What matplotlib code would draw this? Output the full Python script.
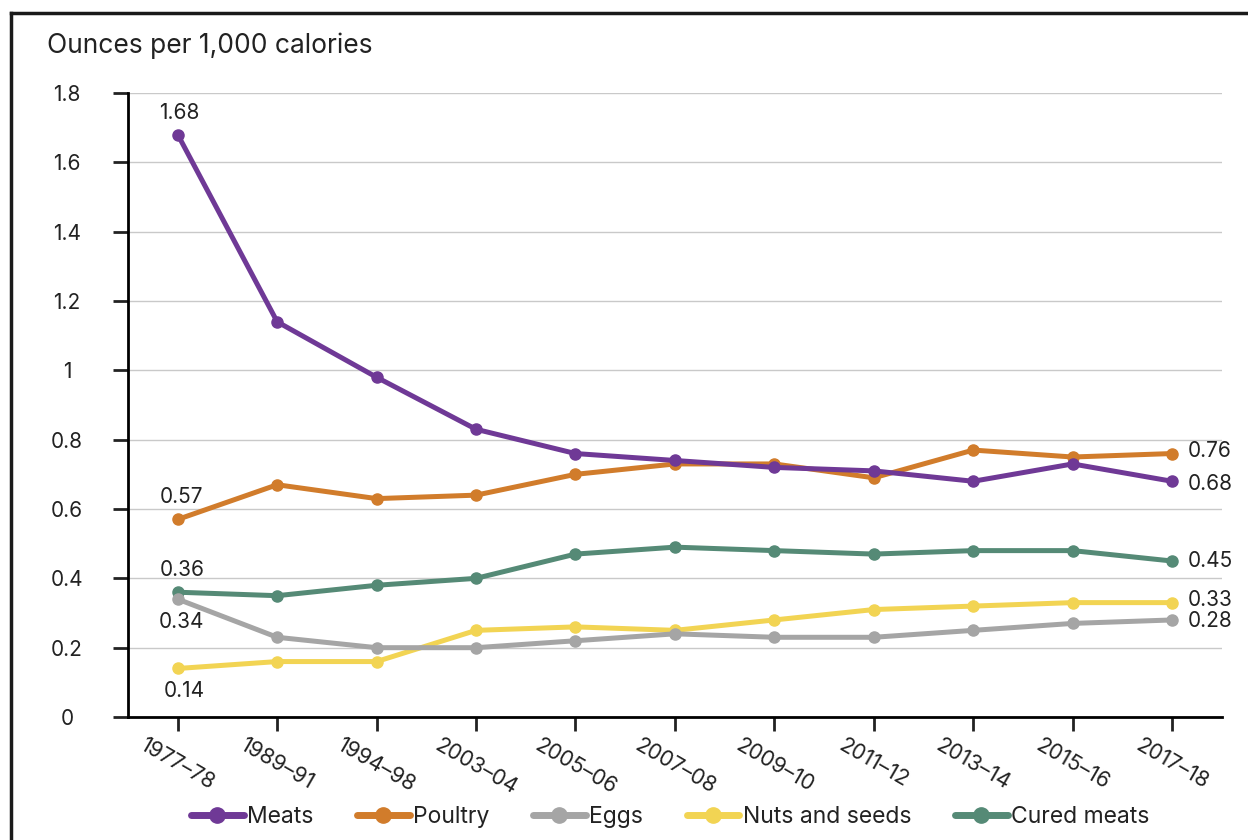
"""Ounces per 1,000 calories by food group, 1977-78 to 2017-18."""

import matplotlib
matplotlib.use('Agg')
import matplotlib.pyplot as plt
from matplotlib.lines import Line2D


plt.rcParams['font.family'] = ['Inter', 'DejaVu Sans']

periods = ['1977–78', '1989–91', '1994–98', '2003–04', '2005–06', '2007–08',
           '2009–10', '2011–12', '2013–14', '2015–16', '2017–18']

meats = [1.68, 1.14, 0.98, 0.83, 0.76, 0.74, 0.72, 0.71, 0.68, 0.73, 0.68]
poultry = [0.57, 0.67, 0.63, 0.64, 0.70, 0.73, 0.73, 0.69, 0.77, 0.75, 0.76]
eggs = [0.34, 0.23, 0.20, 0.20, 0.22, 0.24, 0.23, 0.23, 0.25, 0.27, 0.28]
nuts = [0.14, 0.16, 0.16, 0.25, 0.26, 0.25, 0.28, 0.31, 0.32, 0.33, 0.33]
cured = [0.36, 0.35, 0.38, 0.40, 0.47, 0.49, 0.48, 0.47, 0.48, 0.48, 0.45]

series = [
    ('Meats', meats, '#6f3996'),
    ('Poultry', poultry, '#d17c2b'),
    ('Eggs', eggs, '#a5a5a5'),
    ('Nuts and seeds', nuts, '#f2d453'),
    ('Cured meats', cured, '#558a76'),
]

yticks = [0, 0.2, 0.4, 0.6, 0.8, 1, 1.2, 1.4, 1.6, 1.8]
ytick_labels = ['0', '0.2', '0.4', '0.6', '0.8', '1', '1.2', '1.4', '1.6', '1.8']

text_color = '#222222'


fig = plt.figure(figsize=(12.48, 8.4), dpi=100)
ax = fig.add_axes([0.1026, 0.1464, 0.8764, 0.7429])

xx = list(range(len(periods)))

# draw the later series first so meats sits on top
for name, vals, color in series[::-1]:
    ax.plot(xx, vals, color=color, lw=3.6, marker='o', ms=8,
            solid_capstyle='round', zorder=3)

ax.set_xlim(-0.5, 10.5)
ax.set_ylim(0, 1.8)

ax.set_yticks(yticks)
ax.set_yticklabels(ytick_labels)
ax.set_xticks(xx)
ax.set_xticklabels(periods, rotation=-30, ha='center', va='top')

ax.tick_params(axis='y', length=11, width=2, labelsize=15, pad=33, colors=text_color)
ax.tick_params(axis='x', length=10, width=2, labelsize=15.5, pad=3, colors=text_color)
for lab in ax.get_yticklabels():
    lab.set_horizontalalignment('center')

ax.grid(axis='y', color='#c9c9c9', lw=1)
ax.set_axisbelow(True)
for side in ['top', 'right']:
    ax.spines[side].set_visible(False)
ax.spines['left'].set_linewidth(2)
ax.spines['bottom'].set_linewidth(2)

# value labels at the ends --------------------------------------------------

lab_kw = dict(fontsize=15, color=text_color, textcoords='offset points')

ax.annotate('1.68', (0, meats[0]), xytext=(1, 8), ha='center', va='bottom', **lab_kw)
ax.annotate('0.57', (0, poultry[0]), xytext=(3, 9), ha='center', va='bottom', **lab_kw)
ax.annotate('0.36', (0, cured[0]), xytext=(3, 9), ha='center', va='bottom', **lab_kw)
ax.annotate('0.34', (0, eggs[0]), xytext=(3, -9), ha='center', va='top', **lab_kw)
ax.annotate('0.14', (0, nuts[0]), xytext=(5, -9), ha='center', va='top', **lab_kw)

end_offsets = [(meats, -2), (poultry, 2), (cured, 0), (nuts, 2), (eggs, -1)]
for vals, dy in end_offsets:
    ax.annotate(f'{vals[-1]:.2f}', (10, vals[-1]), xytext=(11, dy),
                ha='left', va='center', **lab_kw)

fig.text(0.038, 0.93, 'Ounces per 1,000 calories', fontsize=19, color=text_color,
         ha='left', va='bottom')

# legend --------------------------------------------------------------------

handles = [Line2D([0], [0], color=c, lw=5, marker='o', ms=11, solid_capstyle='round')
           for _, _, c in series]
fig.legend(handles, [s[0] for s in series], loc='center', bbox_to_anchor=(0.537, 0.027),
           ncol=5, frameon=False, fontsize=16.5, handlelength=2.3, handletextpad=0.15,
           columnspacing=1.9, labelcolor=text_color)

# frame around the figure ---------------------------------------------------

fig.add_artist(Line2D([0.009, 1.0], [0.984, 0.984], color='#1a1a1a', lw=2.5,
                      transform=fig.transFigure))
fig.add_artist(Line2D([0.009, 0.009], [0.0, 0.984], color='#1a1a1a', lw=2.5,
                      transform=fig.transFigure))

fig.savefig('out.png', dpi=100)
